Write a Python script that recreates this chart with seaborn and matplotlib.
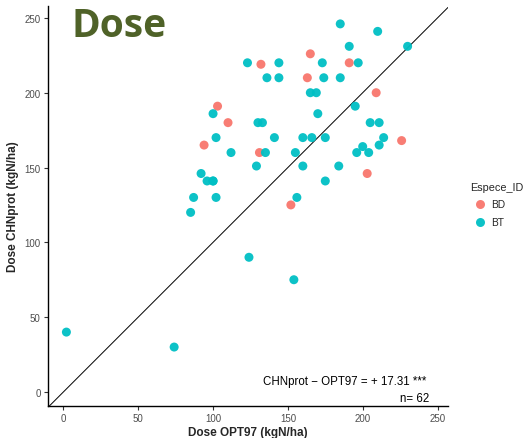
import matplotlib
matplotlib.use("Agg")
import matplotlib.pyplot as plt
import seaborn as sns
import pandas as pd

# Nitrogen dose (kgN/ha) estimated by the two methods, per plot
bd_opt97 = [165, 132, 191, 163, 209, 103, 110, 94, 131, 226, 203, 152]
bd_chnprot = [226, 219, 220, 210, 200, 191, 180, 165, 160, 168, 146, 125]

bt_opt97 = [185, 210, 191, 230, 123, 144, 173, 197, 136, 144, 174, 185,
            165, 169, 195, 100, 170, 130, 133, 205, 211, 102, 141, 160,
            166, 175, 214, 112, 135, 155, 196, 200, 204, 211, 129, 160,
            184, 92, 96, 100, 100, 175, 102, 156, 87, 85, 2, 74, 124, 154]
bt_chnprot = [246, 241, 231, 231, 220, 220, 220, 220, 210, 210, 210, 210,
              200, 200, 191, 186, 186, 180, 180, 180, 180, 170, 170, 170,
              170, 170, 170, 160, 160, 160, 160, 164, 160, 165, 151, 151,
              151, 146, 141, 141, 141, 141, 130, 130, 130, 120, 40, 30, 90, 75]

species = ["BD", "BT"]
palette = {"BD": "#F8766D", "BT": "#00BFC4"}
diff_label = "CHNprot \u2212 OPT97 = + 17.31 ***"

df = pd.DataFrame({
    "OPT97": bd_opt97 + bt_opt97,
    "CHNprot": bd_chnprot + bt_chnprot,
    "Espece_ID": ["BD"] * len(bd_opt97) + ["BT"] * len(bt_opt97),
})

sns.set_theme(style="ticks")
plt.rcParams["font.family"] = ["Liberation Sans", "DejaVu Sans"]

fig = plt.figure(figsize=(5.23, 4.39), dpi=100)
ax = fig.add_axes([0.0912, 0.0722, 0.7654, 0.912])

sns.scatterplot(data=df, x="OPT97", y="CHNprot", hue="Espece_ID",
                hue_order=species, palette=palette, s=42, linewidth=0,
                alpha=0.95, ax=ax, zorder=3)

ax.axline((0, 0), slope=1, color="black", lw=0.7, zorder=2)

ax.set_xlim(-10.5, 257)
ax.set_ylim(-9.6, 258)
ax.set_xticks([0, 50, 100, 150, 200, 250])
ax.set_yticks([0, 50, 100, 150, 200, 250])
ax.tick_params(axis="both", labelsize=7, labelcolor="#4D4D4D",
               length=3, width=0.8, color="#333333", pad=2)
for side in ["top", "right"]:
    ax.spines[side].set_visible(False)
for side in ["left", "bottom"]:
    ax.spines[side].set_color("black")
    ax.spines[side].set_linewidth(1.0)

ax.set_xlabel("Dose OPT97 (kgN/ha)", fontsize=8.5, fontweight="bold", labelpad=2)
ax.set_ylabel("Dose CHNprot (kgN/ha)", fontsize=8.5, fontweight="bold", labelpad=4)

ax.text(187.7, 7.5, diff_label, ha="center", va="center", fontsize=8.3,
        color="black")
ax.text(244.4, -4.2, f"n= {len(df)}", ha="right", va="center", fontsize=8.3,
        color="black")

fig.text(0.136, 0.915, "Dose", fontsize=28, fontweight="bold",
         color="#4F6228", family=["Open Sans", "DejaVu Sans"], ha="left",
         va="baseline")

leg = ax.legend(title="Espece_ID", loc="upper left",
                bbox_to_anchor=(0.889, 0.595), bbox_transform=fig.transFigure,
                frameon=False, fontsize=7.3, title_fontsize=7.8,
                handletextpad=0.05, labelspacing=0.75, borderpad=0,
                markerscale=1.0)
leg._legend_box.align = "left"

fig.savefig("out.png", dpi=100)
